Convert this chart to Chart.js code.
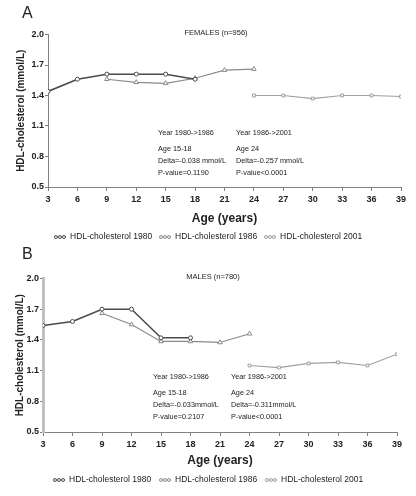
<!DOCTYPE html>
<html>
<head>
<meta charset="utf-8">
<script src="https://cdn.jsdelivr.net/npm/chart.js@4.4.1/dist/chart.umd.min.js"></script>
<style>
html, body { margin: 0; padding: 0; background: #fff; overflow: hidden; }
#wrap { position: relative; width: 416px; height: 496px; }
canvas { position: absolute; left: 0; }
#chartA { top: 0; }
#chartB { top: 245px; }
</style>
</head>
<body>
<div id="wrap">
  <canvas id="chartA" width="416" height="252"></canvas>
  <canvas id="chartB" width="416" height="251"></canvas>
</div>
<script>
// datos
var ages1980 = [3, 6, 9, 12, 15, 18];
var ages1986 = [9, 12, 15, 18, 21, 24];
var ages2001 = [24, 27, 30, 33, 36, 39];

var femHdl1980 = [1.44, 1.56, 1.61, 1.61, 1.61, 1.56];
var femHdl1986 = [1.56, 1.53, 1.52, 1.57, 1.65, 1.66];
var femHdl2001 = [1.40, 1.40, 1.37, 1.40, 1.40, 1.39];

var malHdl1980 = [1.54, 1.58, 1.70, 1.70, 1.42, 1.42];
var malHdl1986 = [1.66, 1.55, 1.385, 1.385, 1.375, 1.46];
var malHdl2001 = [1.15, 1.13, 1.17, 1.18, 1.15, 1.26];

var seriesNames = ["HDL-cholesterol 1980", "HDL-cholesterol 1986", "HDL-cholesterol 2001"];

var notesFem = [
    ["Year 1980->1986", "Age 15-18", "Delta=-0.038 mmol/L", "P-value=0.1190"],
    ["Year 1986->2001", "Age 24", "Delta=-0.257 mmol/L", "P-value<0.0001"]
];
var notesMal = [
    ["Year 1980->1986", "Age 15-18", "Delta=-0.033mmol/L", "P-value=0.2107"],
    ["Year 1986->2001", "Age 24", "Delta=-0.311mmol/L", "P-value<0.0001"]
];

var FONT = '"Liberation Sans", Arial, Helvetica, sans-serif';
Chart.defaults.font.family = FONT;
Chart.defaults.color = "#222";

var colores = ["#4a4a4a", "#8a8a8a", "#a0a0a0"];
var estilos = ["circle", "triangle", "rect"];

function toPoints(xs, ys) {
    return xs.map(function (x, i) { return {x: x, y: ys[i]}; });
}

// simbolo pequeño de la leyenda: linea con tres marcadores
function legendIcon(color) {
    var c = document.createElement("canvas");
    c.width = 12; c.height = 6;
    var g = c.getContext("2d");
    g.strokeStyle = color;
    g.lineWidth = 1;
    g.beginPath(); g.moveTo(0, 3); g.lineTo(12, 3); g.stroke();
    [2, 6, 10].forEach(function (x) {
        g.beginPath(); g.arc(x, 3, 1.5, 0, Math.PI * 2);
        g.fillStyle = "#fff"; g.fill(); g.stroke();
    });
    return c;
}

// letra del panel, titulo interior y textos de las pruebas
var panelText = {
    id: "panelText",
    afterDraw: function (chart, args, opts) {
        var ctx = chart.ctx, a = chart.chartArea;
        ctx.save();
        ctx.fillStyle = "#222";
        ctx.textBaseline = "middle";
        ctx.font = "16px " + FONT;
        ctx.fillText(opts.letter, 22, opts.letterY);
        ctx.font = "7.5px " + FONT;
        ctx.textAlign = "center";
        ctx.fillText(opts.title, opts.titleX, a.top - 1.5);
        ctx.textAlign = "left";
        ctx.font = "7.3px " + FONT;
        var cols = [110, 188], rows = [98.5, 114, 126, 138];
        opts.notes.forEach(function (col, c) {
            col.forEach(function (line, r) {
                ctx.fillText(line, a.left + cols[c], a.top + rows[r]);
            });
        });
        ctx.restore();
    }
};

function makeChart(id, d1980, d1986, d2001, p) {
    var datos = [d1980, d1986, d2001];
    var edades = [ages1980, ages1986, ages2001];
    var datasets = datos.map(function (d, i) {
        return {
            label: seriesNames[i],
            data: toPoints(edades[i], d),
            borderColor: colores[i],
            backgroundColor: colores[i],
            borderWidth: i === 0 ? 1.5 : 1.2,
            pointStyle: estilos[i],
            pointRadius: i === 1 ? 2.6 : 2,
            pointBorderWidth: 1,
            pointBackgroundColor: "#fff",
            pointBorderColor: colores[i],
            tension: 0
        };
    });

    var config = {
        type: "line",
        data: {datasets: datasets},
        options: {
            responsive: false,
            animation: false,
            devicePixelRatio: 1,
            layout: {padding: {left: 0, right: 0, top: p.top, bottom: p.bottom}},
            plugins: {
                tooltip: {enabled: false},
                legend: {
                    position: "bottom",
                    labels: {
                        usePointStyle: true,
                        pointStyleWidth: 12,
                        padding: p.legendPad,
                        color: "#222",
                        font: {size: 8.5},
                        generateLabels: function (chart) {
                            return chart.data.datasets.map(function (ds, i) {
                                return {
                                    text: ds.label,
                                    pointStyle: legendIcon(ds.borderColor),
                                    fillStyle: "#fff",
                                    strokeStyle: ds.borderColor,
                                    lineWidth: 0,
                                    fontColor: "#222",
                                    datasetIndex: i
                                };
                            });
                        }
                    }
                },
                panelText: {letter: p.letter, letterY: p.letterY, title: p.title, titleX: p.titleX, notes: p.notes}
            },
            scales: {
                x: {
                    type: "linear",
                    min: 3,
                    max: 39,
                    afterFit: function (s) { s.height = p.xHeight; },
                    ticks: {stepSize: 3, padding: 3, color: "#222", font: {size: 9, weight: "bold"}},
                    grid: {display: true, drawOnChartArea: false, drawTicks: true, tickLength: 4, color: "#808080"},
                    border: {display: true, color: "#808080", width: 1},
                    title: {display: true, text: "Age (years)", color: "#222", font: {size: 12, weight: "bold"}, padding: {top: 0, bottom: 0}}
                },
                y: {
                    min: 0.5,
                    max: 2.0,
                    afterFit: function (s) { s.width = p.yWidth; },
                    ticks: {
                        stepSize: 0.3,
                        padding: 1,
                        color: "#222",
                        font: {size: 9, weight: "bold"},
                        callback: function (v) { return v.toFixed(1); }
                    },
                    grid: {display: true, drawOnChartArea: false, drawTicks: true, tickLength: 3, color: "#808080"},
                    border: {display: true, color: p.yAxisColor, width: p.yAxisWidth},
                    title: {display: true, text: "HDL-cholesterol (mmol/L)", color: "#222", font: {size: 10, weight: "bold"}, padding: {top: p.yTitlePad, bottom: 0}}
                },
                // eje vacio a la derecha: solo reserva el margen
                yPad: {
                    position: "right",
                    display: true,
                    min: 0.5,
                    max: 2.0,
                    afterFit: function (s) { s.width = p.right; },
                    ticks: {display: false},
                    grid: {display: false},
                    border: {display: false}
                }
            }
        },
        plugins: [panelText]
    };
    return new Chart(document.getElementById(id).getContext("2d"), config);
}

makeChart("chartA", femHdl1980, femHdl1986, femHdl2001, {
    right: 15, top: 34.5, bottom: 0.75, xHeight: 39.2, yWidth: 48, legendPad: 6.55,
    yTitlePad: 15.7, yAxisColor: "#808080", yAxisWidth: 1,
    letter: "A", letterY: 14, title: "FEMALES (n=956)", titleX: 216, notes: notesFem
});

makeChart("chartB", malHdl1980, malHdl1986, malHdl2001, {
    right: 19, top: 33.5, bottom: 1.75, xHeight: 36.2, yWidth: 43, legendPad: 7.55,
    yTitlePad: 14, yAxisColor: "#c0c0c0", yAxisWidth: 3,
    letter: "B", letterY: 10, title: "MALES (n=780)", titleX: 213, notes: notesMal
});
</script>
</body>
</html>
